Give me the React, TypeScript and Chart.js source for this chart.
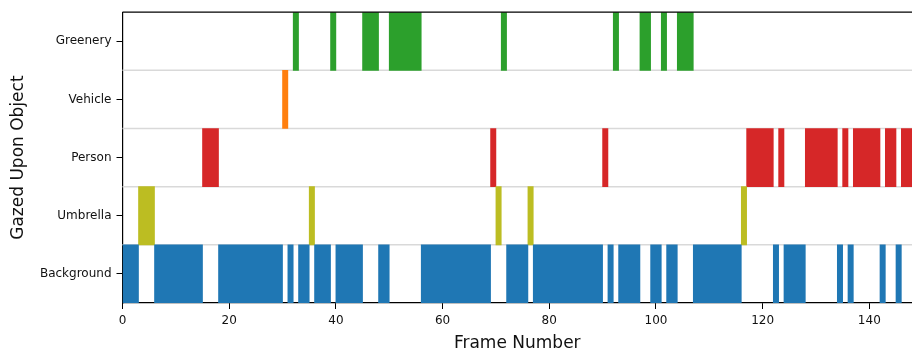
import React, { useEffect, useRef } from 'react';
import { Chart, registerables } from 'chart.js';

Chart.register(...registerables);

// Row labels, top to bottom
const objectLabels = ['Greenery', 'Vehicle', 'Person', 'Umbrella', 'Background'];

// Gaze runs: frame interval [start, end) and the object gazed upon
const runStarts = [0, 3, 6, 15, 18, 30, 31, 32, 33, 35, 36, 39, 40, 45, 48, 50, 56, 69, 70, 71, 72, 76, 77, 90, 91, 92, 93, 97, 99, 101, 102, 104, 107, 116, 117, 122, 123, 124, 128, 134, 135, 136, 137, 142, 143, 145, 146];
const runEnds = [3, 6, 15, 18, 30, 31, 32, 33, 35, 36, 39, 40, 45, 48, 50, 56, 69, 70, 71, 72, 76, 77, 90, 91, 92, 93, 97, 99, 101, 102, 104, 107, 116, 117, 122, 123, 124, 128, 134, 135, 136, 137, 142, 143, 145, 146, 148];
const runObjects = [
  'Background', 'Umbrella', 'Background', 'Person', 'Background', 'Vehicle', 'Background', 'Greenery', 'Background', 'Umbrella',
  'Background', 'Greenery', 'Background', 'Greenery', 'Background', 'Greenery', 'Background', 'Person', 'Umbrella', 'Greenery',
  'Background', 'Umbrella', 'Background', 'Person', 'Background', 'Greenery', 'Background', 'Greenery', 'Background', 'Greenery',
  'Background', 'Greenery', 'Background', 'Umbrella', 'Person', 'Background', 'Person', 'Background', 'Person', 'Background',
  'Person', 'Background', 'Person', 'Background', 'Person', 'Background', 'Person',
];

const xTickValues = [0, 20, 40, 60, 80, 100, 120, 140];
const frameMin = 0;
const frameMax = 148;

const objectColors: Record<string, string> = {
  Background: '#1f77b4',
  Umbrella: '#bcbd22',
  Person: '#d62728',
  Vehicle: '#ff7f0e',
  Greenery: '#2ca02c',
};

const FONT = '"DejaVu Sans", sans-serif';

const framePlugin = {
  id: 'framePlugin',
  beforeDatasetsDraw(chart: any) {
    const { ctx, chartArea, scales } = chart;
    const y = scales.y;
    ctx.save();
    ctx.strokeStyle = '#d9d9d9';
    ctx.lineWidth = 1.5;
    for (let i = 1; i < objectLabels.length; i++) {
      const py = (y.getPixelForValue(i - 1) + y.getPixelForValue(i)) / 2;
      ctx.beginPath();
      ctx.moveTo(chartArea.left, py);
      ctx.lineTo(chartArea.right, py);
      ctx.stroke();
    }
    ctx.restore();
  },
  afterDraw(chart: any) {
    const { ctx, chartArea } = chart;
    ctx.save();
    ctx.strokeStyle = '#000';
    ctx.lineWidth = 1.2;
    ctx.beginPath();
    ctx.moveTo(chartArea.left, chartArea.top);
    ctx.lineTo(chartArea.right, chartArea.top);
    ctx.stroke();
    ctx.restore();
  },
};

export default function App() {
  const canvasRef = useRef<HTMLCanvasElement | null>(null);

  useEffect(() => {
    if (!canvasRef.current) return;
    const uniqueObjects = ['Background', 'Umbrella', 'Person', 'Vehicle', 'Greenery'];
    const datasets = uniqueObjects.map((obj) => ({
      label: obj,
      data: runStarts
        .map((s, i) => ({ s, e: runEnds[i], o: runObjects[i] }))
        .filter((r) => r.o === obj)
        .map((r) => ({ x: [r.s, r.e], y: obj })),
      backgroundColor: objectColors[obj],
      borderWidth: 0,
      grouped: false,
      barPercentage: 1,
      categoryPercentage: 1,
    }));

    const chart = new Chart(canvasRef.current, {
      type: 'bar',
      data: { labels: objectLabels, datasets: datasets as any },
      options: {
        indexAxis: 'y',
        animation: false,
        responsive: true,
        maintainAspectRatio: false,
        layout: { padding: { top: 12, right: 0, left: 0, bottom: 0 } },
        plugins: {
          legend: { display: false },
          tooltip: { enabled: false },
        },
        scales: {
          x: {
            type: 'linear',
            min: frameMin,
            max: frameMax,
            afterBuildTicks: (scale: any) => {
              scale.ticks = xTickValues.map((v) => ({ value: v }));
            },
            afterFit: (scale: any) => {
              scale.height = 47;
            },
            ticks: {
              font: { family: FONT, size: 12 },
              color: '#111',
              padding: 5,
              maxRotation: 0,
            },
            grid: {
              drawOnChartArea: false,
              drawTicks: true,
              tickLength: 6,
              color: '#000',
              lineWidth: 1,
            },
            border: { display: true, color: '#000', width: 1.2 },
            title: {
              display: true,
              text: 'Frame Number',
              font: { family: FONT, size: 17 },
              color: '#111',
              padding: { top: 0, bottom: -4 },
            },
          },
          y: {
            type: 'category',
            labels: objectLabels,
            afterFit: (scale: any) => {
              scale.width = 122.5;
            },
            ticks: {
              font: { family: FONT, size: 12 },
              color: '#111',
              padding: 5,
            },
            grid: {
              drawOnChartArea: false,
              offset: false,
              drawTicks: true,
              tickLength: 6,
              color: '#000',
              lineWidth: 1,
            },
            border: { display: true, color: '#000', width: 1.2 },
            title: {
              display: true,
              text: 'Gazed Upon Object',
              font: { family: FONT, size: 17 },
              color: '#111',
              padding: { top: 8, bottom: 0 },
            },
          },
        },
      },
      plugins: [framePlugin],
    });
    return () => chart.destroy();
  }, []);

  return (
    <div style={{ position: 'fixed', left: 0, top: 0, width: 912, height: 350, background: '#fff' }}>
      <canvas ref={canvasRef} />
    </div>
  );
}
